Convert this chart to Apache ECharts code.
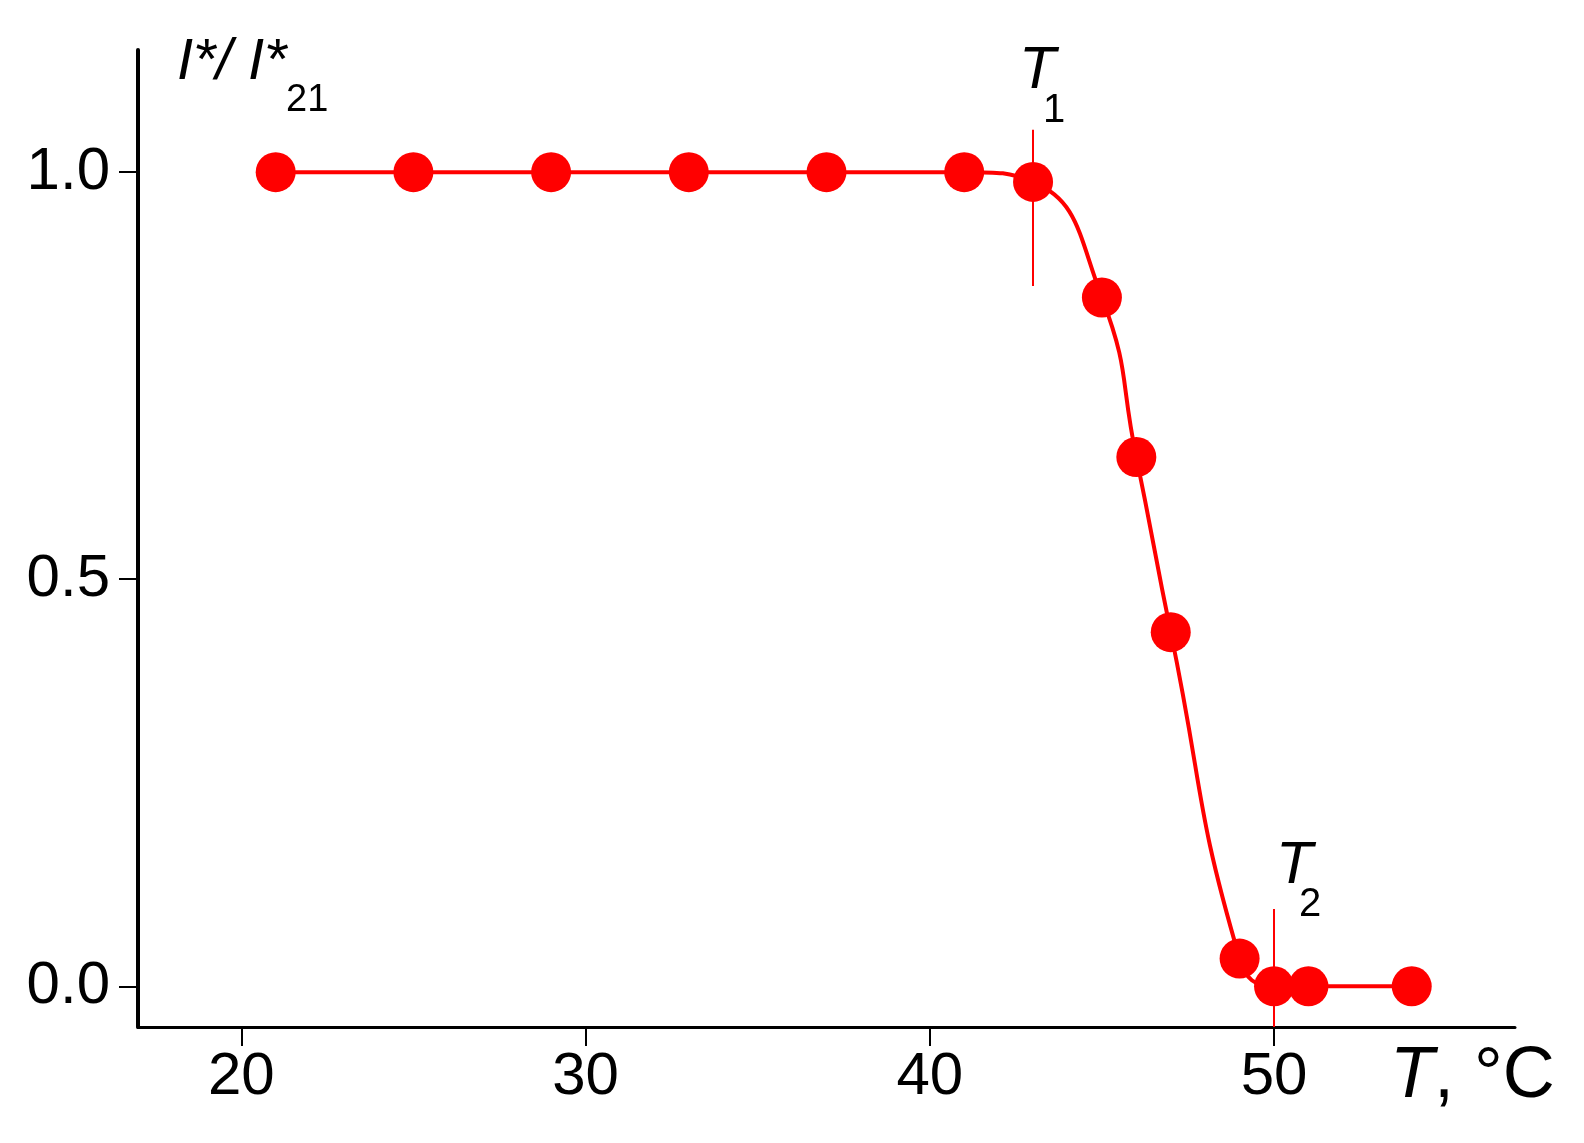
<!DOCTYPE html>
<html><head><meta charset="utf-8">
<script src="https://cdn.jsdelivr.net/npm/echarts@6/dist/echarts.min.js"></script>
<style>html,body{margin:0;padding:0;background:#fff}#c{width:1584px;height:1143px}</style>
</head><body><div id="c"></div>
<script>
// Data
const temps = [21, 25, 29, 33, 37, 41, 43, 45, 46, 47, 49, 50, 51, 54];
const ratio = [1.0, 1.0, 1.0, 1.0, 1.0, 1.0, 0.988, 0.846, 0.650, 0.435, 0.034, 0.0, 0.0, 0.0];
const xTicks = [20, 30, 40, 50];
const yTicks = [0.0, 0.5, 1.0];
const T1 = 43, T2 = 50;
const t1Span = [0.86, 1.052];
const t2Span = [-0.05, 0.095];
const xRange = [17, 57];
const yRange = [-0.05, 1.15];

const FONT = '"Liberation Sans", Arial, Helvetica, sans-serif';
const RED = '#ff0000';

const chart = echarts.init(document.getElementById('c'), null, {renderer: 'canvas'});
const pts = temps.map((t, i) => [t, ratio[i]]);

chart.setOption({
  animation: false,
  backgroundColor: '#fff',
  grid: {left: 138, right: 69, top: 50, bottom: 116, containLabel: false},
  xAxis: {
    type: 'value', min: xRange[0], max: xRange[1],
    splitLine: {show: false},
    axisLine: {show: true, onZero: false, lineStyle: {color: '#000', width: 3}},
    axisTick: {show: true, customValues: xTicks, length: 19, inside: false, lineStyle: {color: '#000', width: 2}},
    axisLabel: {customValues: xTicks, margin: 20, color: '#000', fontSize: 60, fontFamily: FONT,
      formatter: v => String(Math.round(v))}
  },
  yAxis: {
    type: 'value', min: yRange[0], max: yRange[1],
    splitLine: {show: false},
    axisLine: {show: true, onZero: false, lineStyle: {color: '#000', width: 4}},
    axisTick: {show: true, customValues: yTicks, length: 19, inside: false, lineStyle: {color: '#000', width: 2}},
    axisLabel: {customValues: yTicks, margin: 28, color: '#000', fontSize: 60, fontFamily: FONT,
      padding: [0, 0, 17, 0],
      formatter: v => v.toFixed(1)}
  },
  series: [{
    type: 'line',
    data: pts,
    smooth: 0.5,
    symbol: 'circle',
    symbolSize: 40,
    itemStyle: {color: RED},
    lineStyle: {color: RED, width: 4},
    z: 3,
    markLine: {
      silent: true,
      symbol: ['none', 'none'],
      label: {show: false},
      lineStyle: {color: RED, width: 2, type: 'solid'},
      data: [
        [{coord: [T1, t1Span[1]]}, {coord: [T1, t1Span[0]]}],
        [{coord: [T2, t2Span[1]]}, {coord: [T2, t2Span[0]]}]
      ]
    }
  }]
});

// Annotations anchored to data coordinates
const a1 = chart.convertToPixel({gridIndex: 0}, [T1, t1Span[1]]);
const a2 = chart.convertToPixel({gridIndex: 0}, [T2, t2Span[1]]);
const origin = chart.convertToPixel({gridIndex: 0}, [xRange[0], yRange[1]]);
const corner = chart.convertToPixel({gridIndex: 0}, [xRange[1], yRange[0]]);

function txt(text, x, y, size, italic) {
  return {type: 'text', x: x, y: y, silent: true,
    style: {text: text, fill: '#000', font: (italic ? 'italic ' : '') + size + 'px ' + FONT,
      textAlign: 'left', textVerticalAlign: 'middle'}};
}

chart.setOption({
  graphic: [
    // T1 label
    txt('T', a1[0] - 14, a1[1] - 58, 60, true),
    txt('1', a1[0] + 10, a1[1] - 19, 40, false),
    // T2 label
    txt('T', a2[0] + 2, a2[1] - 43, 60, true),
    txt('2', a2[0] + 25, a2[1] - 4, 40, false),
    // y axis name: I*/ I*21
    txt('I*/ I*', origin[0] + 39, origin[1] + 13, 58, true),
    txt('21', origin[0] + 148, origin[1] + 51, 38, false),
    // x axis name: T, °C
    {type: 'text', x: corner[0] - 125, y: corner[1] + 50, silent: true,
      style: {text: '{i|T}{n|, °C}', textVerticalAlign: 'middle', textAlign: 'left',
        rich: {i: {font: 'italic 72px ' + FONT, fill: '#000'},
               n: {font: '72px ' + FONT, fill: '#000'}}}}
  ]
});
</script>
</body></html>
